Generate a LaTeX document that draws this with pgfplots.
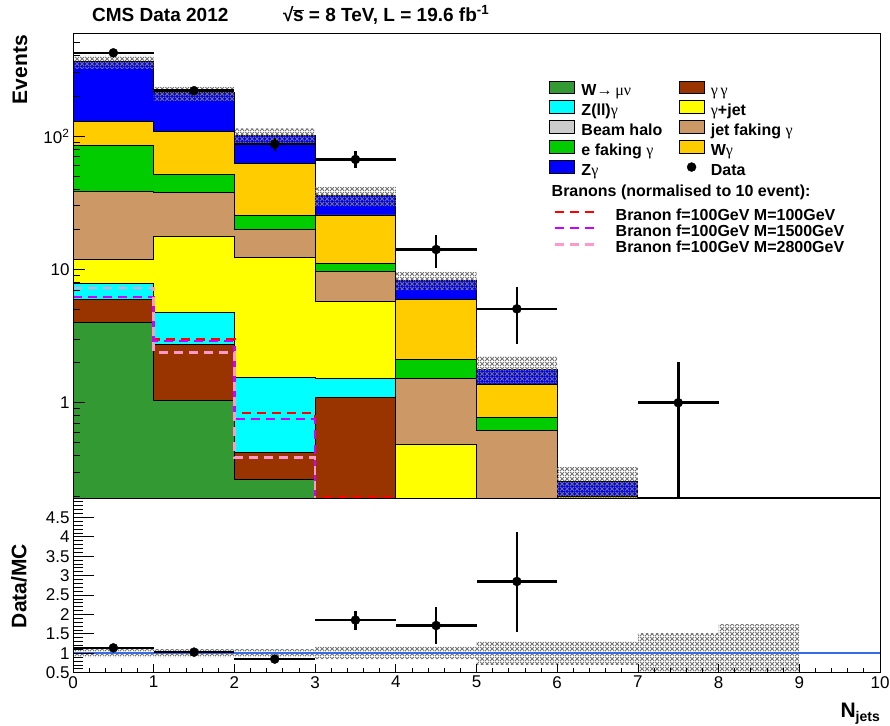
\documentclass[border=0pt]{standalone}
\usepackage{pgfplots}
\pgfplotsset{compat=1.18}
\usepackage{fontspec}
\setmainfont{Liberation Sans}
\newfontfamily\grk{Liberation Serif}
\usetikzlibrary{patterns,patterns.meta}
\definecolor{cWmunu}{RGB}{51,153,51}
\definecolor{cGG}{RGB}{153,51,0}
\definecolor{cZll}{RGB}{0,255,255}
\definecolor{cGjet}{RGB}{255,255,0}
\definecolor{cHalo}{RGB}{204,204,204}
\definecolor{cJet}{RGB}{204,153,102}
\definecolor{cEfake}{RGB}{0,204,0}
\definecolor{cWg}{RGB}{255,204,0}
\definecolor{cZg}{RGB}{0,0,255}
\definecolor{cBrA}{RGB}{255,0,0}
\definecolor{cBrB}{RGB}{204,0,255}
\definecolor{cBrC}{RGB}{255,153,204}
\definecolor{cLine}{RGB}{56,108,230}
\tikzdeclarepattern{name=rootmesh, type=uncolored,
  bounding box={(0bp,0bp) and (5bp,5bp)}, tile size={(5bp,5bp)},
  code={\tikzset{line width=1.3bp}
    \draw (0bp,0bp) -- (5bp,5bp);
    \draw (0bp,5bp) -- (5bp,0bp);}}
\newcommand{\g}{{\grk\mdseries γ}}
\newcommand{\lb}[1]{\makebox[97.2bp][l]{#1}}
\begin{document}
\begin{tikzpicture}
\pgfplotsset{
  every axis/.append style={font=\fontsize{17bp}{20bp}\selectfont,
    /pgf/number format/assume math mode=true},
  stk/.style={const plot mark left, draw=black, line width=0.9bp, fill=#1},
  brn/.style={const plot mark left, line width=2.5bp, dash pattern=on 9bp off 6bp, color=#1},
  box/.style={legend image code/.code={\draw[##1, line width=0.8bp] (0bp,-1.5bp) rectangle (25bp,11bp);}},
  dline/.style={legend image code/.code={\draw[##1] (0bp,4.5bp) -- (40bp,4.5bp);}},
  dleg/.style={legend image code/.code={\draw[##1] plot coordinates {(12.5bp,4.5bp)};}},
  band/.style={draw=none, pattern=rootmesh, pattern color=black!55},
}
% ---------------- ratio panel ----------------
\begin{axis}[at={(0bp,0bp)}, anchor=north west, scale only axis,
  width=807bp, height=174.7bp,
  xmin=0, xmax=10, ymin=0.5, ymax=5,
  xtick={0,1,2,3,4,5,6,7,8,9,10}, minor x tick num=4,
  ytick={0.5,1,1.5,2,2.5,3,3.5,4,4.5,5},
  yticklabels={0.5,1,1.5,2,2.5,3,3.5,4,4.5,},
  minor y tick num=4,
  tick align=inside, tick pos=left,
  major tick length=21bp, minor tick length=10bp,
  xtick style={/pgfplots/major tick length=9bp, /pgfplots/minor tick length=4.5bp},
  tick style={black, line width=0.8bp},
  axis line style={line width=1bp},
  axis on top, clip=true]
\addplot[band] coordinates {
 (0,1.11) (3,1.11) (3,1.17) (5,1.17) (5,1.30) (7,1.30) (7,1.52) (8,1.52) (8,1.75) (9,1.75)
 (9,0.30) (8,0.30) (8,0.48) (7,0.48) (7,0.70) (5,0.70) (5,0.85) (3,0.85) (3,0.90) (0,0.90)} -- cycle;
\addplot[line width=2bp, color=cLine] coordinates {(0,1) (10,1)};
\addplot[only marks, mark=*, mark size=4.5bp, black,
  error bars/.cd, x dir=both, x explicit, y dir=both, y explicit, error mark=none,
  error bar style={line width=2.5bp}] coordinates {
 (0.5,1.14) +- (0.5,0.05)
 (1.5,1.03) +- (0.5,0.06)
 (2.5,0.85) +- (0.5,0.08)
 (3.5,1.855) += (0.5,0.225) -= (0.5,0.255)
 (4.5,1.715) += (0.5,0.465) -= (0.5,0.475)
 (5.5,2.85) += (0.5,1.27) -= (0.5,1.29)
};
\end{axis}
% ---------------- main panel ----------------
\begin{axis}[at={(0bp,0bp)}, anchor=south west, scale only axis,
  width=807bp, height=464.7bp,
  xmin=0, xmax=10, ymode=log, ymin=0.193, ymax=590,
  xtick=\empty,
  ytick={1,10,100}, yticklabels={1,10,10\textsuperscript{2}},
  minor ytick={0.2,0.3,0.4,0.5,0.6,0.7,0.8,0.9,2,3,4,5,6,7,8,9,20,30,40,50,60,70,80,90,200,300,400,500},
  tick align=inside, tick pos=left,
  major tick length=12bp, minor tick length=7bp,
  tick style={black, line width=0.8bp},
  axis line style={line width=1bp},
  axis on top, clip=true,
  legend columns=2,
  legend cell align=left,
  legend style={at={(0.5902,0.8983)}, anchor=north west, draw=none, fill=none,
    inner sep=0pt, outer sep=0pt, row sep=0.5bp,
    font=\fontsize{16bp}{19bp}\selectfont\bfseries,
    nodes={inner sep=0pt, text height=12bp, text depth=4bp},
    /tikz/every odd column/.style={column sep=6.4bp},
    /tikz/every even column/.style={column sep=0pt}},
]
% stacked cumulative histograms
\addplot[stk=cZg, forget plot] coordinates {(0,0.01) (0,365) (1,213) (2,101) (3,36) (4,8.2) (5,1.78) (6,0.255) (7,0.01)} -- cycle;
\addplot[stk=cWg, forget plot] coordinates {(0,0.01) (0,129.7) (1,108.4) (2,62.3) (3,25.6) (4,5.95) (5,1.37) (6,0.197) (7,0.01)} -- cycle;
\addplot[stk=cEfake, forget plot] coordinates {(0,0.01) (0,84.6) (1,51.8) (2,25.5) (3,11.1) (4,2.10) (5,0.78) (6,0.01)} -- cycle;
\addplot[stk=cJet, forget plot] coordinates {(0,0.01) (0,38.6) (1,37.7) (2,20.0) (3,9.6) (4,1.51) (5,0.616) (6,0.01)} -- cycle;
\addplot[stk=cGjet, forget plot] coordinates {(0,0.01) (0,11.9) (1,17.8) (2,12.2) (3,5.78) (4,0.483) (5,0.01)} -- cycle;
\addplot[stk=cZll, forget plot] coordinates {(0,0.01) (0,7.8) (1,4.72) (2,1.55) (3,1.53) (4,0.01)} -- cycle;
\addplot[stk=cGG, forget plot] coordinates {(0,0.01) (0,5.95) (1,2.72) (2,0.426) (3,1.10) (4,0.01)} -- cycle;
\addplot[stk=cWmunu, forget plot] coordinates {(0,0.01) (0,4.0) (1,1.04) (2,0.264) (3,0.01)} -- cycle;
% branon signals
\addplot[brn=cBrA, forget plot] coordinates {(0,6.19) (1,2.99) (2,0.837) (3,0.196) (4,0.196)};
\addplot[brn=cBrB, forget plot] coordinates {(0,6.19) (1,2.91) (2,0.758) (3,0.01) (4,0.01)};
\addplot[brn=cBrC, forget plot] coordinates {(0,7.23) (1,2.39) (2,0.39) (3,0.01) (4,0.01)};
% uncertainty band
\addplot[band, forget plot] coordinates {
 (0,399) (1,399) (1,235) (2,235) (2,114) (3,114) (3,41.7) (4,41.7) (4,9.6) (5,9.6)
 (5,2.24) (6,2.24) (6,0.33) (7,0.33) (7,0.19) (6,0.19) (6,1.40) (5,1.40) (5,7.0) (4,7.0)
 (4,29.6) (3,29.6) (3,88) (2,88) (2,184) (1,184) (1,319) (0,319)} -- cycle;
% data
\addplot[only marks, mark=*, mark size=4.5bp, black, forget plot,
  error bars/.cd, x dir=both, x explicit, y dir=both, y explicit, error mark=none,
  error bar style={line width=2.5bp}] coordinates {
 (0.5,421) +- (0.5,20.5)
 (1.5,219) +- (0.5,14.8)
 (2.5,87) += (0.5,10) -= (0.5,10)
 (3.5,66.8) += (0.5,10) -= (0.5,9.3)
 (4.5,14.1) += (0.5,4.0) -= (0.5,3.8)
 (5.5,5.06) += (0.5,2.3) -= (0.5,2.28)
 (7.5,1.0) += (0.5,1.03) -= (0.5,0.83)
};
% legend
\addlegendimage{box, fill=cWmunu, draw=black}
\addlegendentry{\lb{W→\,{\grk\mdseries μν}}}
\addlegendimage{box, fill=cGG, draw=black}
\addlegendentry{\g\,\g}
\addlegendimage{box, fill=cZll, draw=black}
\addlegendentry{\lb{Z(ll)\g}}
\addlegendimage{box, fill=cGjet, draw=black}
\addlegendentry{\g+jet}
\addlegendimage{box, fill=cHalo, draw=black}
\addlegendentry{\lb{Beam halo}}
\addlegendimage{box, fill=cJet, draw=black}
\addlegendentry{jet faking \g}
\addlegendimage{box, fill=cEfake, draw=black}
\addlegendentry{\lb{e faking \g}}
\addlegendimage{box, fill=cWg, draw=black}
\addlegendentry{W\g}
\addlegendimage{box, fill=cZg, draw=black}
\addlegendentry{\lb{Z\g}}
\addlegendimage{dleg, only marks, mark=*, mark size=4.5bp, black}
\addlegendentry{Data}
\end{axis}
% ---------------- second legend (overlay) ----------------
\begin{axis}[at={(0bp,0bp)}, anchor=south west, scale only axis,
  width=807bp, height=464.7bp, hide axis,
  xmin=0, xmax=10, ymode=log, ymin=0.193, ymax=590,
  legend cell align=left,
  legend style={at={(0.5963,0.6738)}, anchor=north west, draw=none, fill=none,
    inner sep=0pt, outer sep=0pt, row sep=0.2bp,
    font=\fontsize{16bp}{19bp}\selectfont\bfseries,
    nodes={inner sep=0pt, text height=12bp, text depth=4bp},
    /tikz/every odd column/.style={column sep=19bp}},
]
\addlegendimage{empty legend}
\addlegendentry[text depth=11.4bp]{\hspace*{-64bp}Branons (normalised to 10 event):}
\addlegendimage{dline, line width=2.5bp, dash pattern=on 9bp off 6bp, color=cBrA}
\addlegendentry{Branon f=100GeV M=100GeV}
\addlegendimage{dline, line width=2.5bp, dash pattern=on 9bp off 6bp, color=cBrB}
\addlegendentry{Branon f=100GeV M=1500GeV}
\addlegendimage{dline, line width=2.5bp, dash pattern=on 9bp off 6bp, color=cBrC}
\addlegendentry{Branon f=100GeV M=2800GeV}
\addplot[draw=none, forget plot] coordinates {(0,1) (10,1)};
\end{axis}
% ---------------- titles and labels ----------------
\node[anchor=base west, inner sep=0pt, font=\fontsize{19bp}{22bp}\selectfont\bfseries] at (19bp,476bp) {CMS Data 2012};
\node[anchor=base west, inner sep=0pt, font=\fontsize{19bp}{22bp}\selectfont\bfseries] at (210bp,476bp) {√\kern-0.5bp$\overline{\hbox{s}}$ = 8 TeV, L = 19.6 fb\textsuperscript{-1}};
\node[rotate=90, anchor=east, inner sep=0pt, font=\fontsize{21bp}{24bp}\selectfont\bfseries] at (-53bp,463bp) {Events};
\node[rotate=90, anchor=center, inner sep=0pt, font=\fontsize{21bp}{24bp}\selectfont\bfseries] at (-54bp,-88bp) {Data/MC};
\node[anchor=base east, inner sep=0pt, font=\fontsize{21bp}{24bp}\selectfont\bfseries] at (807bp,-219bp) {N\raisebox{-0.22em}{\fontsize{14bp}{16bp}\selectfont jets}};
\pgfresetboundingbox
\path[use as bounding box] (-73bp,-228bp) rectangle (817bp,498bp);
\end{tikzpicture}
\end{document}
